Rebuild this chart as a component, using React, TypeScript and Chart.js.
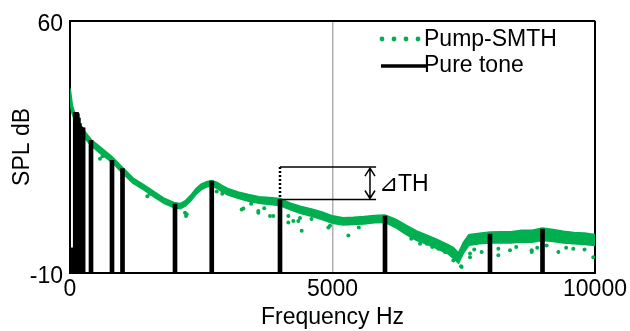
import { useEffect, useRef } from 'react';
import { Chart, registerables } from 'chart.js';
Chart.register(...registerables);

// Pump-SMTH band (upper / lower edge of the dense scatter)
const bandFreq = [0, 40, 100, 200, 300, 400, 500, 600, 800, 1000, 1200, 1400, 1600, 1800, 2000, 2100, 2200, 2300, 2400, 2500, 2600, 2700, 2800, 2900, 3000, 3200, 3400, 3600, 3800, 4000, 4200, 4400, 4600, 4800, 5000, 5200, 5400, 5600, 5800, 6000, 6200, 6400, 6600, 6800, 7000, 7200, 7300, 7400, 7500, 7600, 7800, 8000, 8200, 8400, 8600, 8800, 9000, 9200, 9400, 9600, 9800, 10000];
const bandUpper = [41.2, 36.5, 33.8, 31, 28.8, 27, 25.8, 24.6, 22.2, 19.2, 16.3, 14.5, 12.5, 10.6, 9.4, 9.2, 10, 11.5, 13.3, 14.6, 15.3, 15.6, 15.1, 14.2, 13.4, 12.4, 11.7, 11.1, 10.9, 10.6, 9.3, 8.4, 7.7, 6.9, 5.8, 5.3, 5.4, 5.6, 5.9, 6.0, 4.9, 3.2, 1.6, 0.4, -0.8, -2.2, -3.0, -4.5, -1.5, 0.6, 1.0, 1.3, 1.4, 1.4, 1.8, 1.8, 2.4, 2.0, 1.5, 1.2, 1.0, 0.6];
const bandLower = [37.5, 34.5, 32, 29.5, 27.2, 25.5, 24.2, 23, 20.8, 17.8, 15, 13.2, 11.2, 9.3, 8.1, 7.9, 8.7, 10.1, 11.9, 13.2, 13.9, 14.2, 13.6, 12.6, 11.8, 10.8, 10, 9.4, 9.1, 8.8, 7.6, 6.6, 5.8, 4.9, 3.9, 3.4, 3.5, 3.7, 4.0, 4.1, 2.7, 0.8, -0.9, -2.0, -3.2, -4.6, -5.8, -7.2, -4.2, -2.2, -1.8, -1.6, -1.6, -1.6, -1.3, -1.4, -0.9, -1.2, -1.6, -1.8, -2.0, -2.3];

// isolated low points of Pump-SMTH
const dipFreq = [571, 620, 1473, 1520, 2190, 2210, 2222, 2794, 2900, 3270, 3302, 3450, 3587, 3587, 3700, 3810, 3873, 4159, 4159, 4254, 4349, 4381, 4413, 4600, 4921, 4952, 5302, 5500, 6318, 6349, 6413, 6500, 6667, 6667, 6794, 6900, 7016, 7143, 7302, 7365, 7448, 7460, 7619, 7619, 7700, 7841, 8000, 8159, 8159, 8381, 8500, 8794, 8794, 8900, 9079, 9302, 9450, 9587, 9800, 9968];
const dipLevel = [21.7, 22.4, 11.3, 12.0, 6.7, 5.8, 6.3, 12.6, 12.0, 7.6, 7.9, 9.2, 7.2, 6.7, 8.0, 5.8, 5.8, 4.0, 5.8, 4.4, 4.4, 5.3, 1.7, 5.0, 2.6, 3.1, 0.4, 2.6, 2.6, 2.2, 1.3, -0.5, -0.1, -1.9, -1.9, -2.8, -3.3, -4.2, -6.5, -6.0, -8.1, -8.3, -4.6, -5.6, -3.5, -4.2, -3.0, -5.1, -3.3, -3.7, -2.8, -3.7, -4.2, -3.0, -2.4, -4.2, -3.0, -3.3, -3.5, -5.6];

// Pure tones
const toneFreq = [25, 100, 125, 140, 160, 180, 200, 225, 250, 400, 800, 1000, 2000, 2700, 4000, 6000, 8000, 9000];
const toneLevel = [-3, 34.6, 34.6, 34.2, 33, 31.5, 30.5, 30.3, 30.3, 26.8, 21.3, 19, 9.1, 15.5, 10.4, 5.8, 0.8, 2.2];

// ΔTH annotation
const thFreq = 4000;
const thBase = 10.4;
const thRaised = 19.4;
const thLineEnd = 5830;
const thArrowFreq = 5714;
const thLabel = '⊿TH';

const xTicks = [0, 5000, 10000];
const yTicks = [-10, 60];
const seriesNames = ['Pump-SMTH', 'Pure tone'];

const GREEN = '#00B050';
const FONT = '"Liberation Sans", Arial, sans-serif';
const FS = 23;

const overlay = {
  id: 'overlay',
  afterDraw(chart: any) {
    const { ctx, scales } = chart;
    const x = scales.x, y = scales.y;
    ctx.save();
    const ax = x.getPixelForValue(thArrowFreq);
    const y1 = y.getPixelForValue(thRaised);
    const y2 = y.getPixelForValue(thBase);
    ctx.strokeStyle = '#000';
    ctx.lineWidth = 1.5;
    ctx.beginPath();
    ctx.moveTo(ax, y1 + 1); ctx.lineTo(ax, y2 - 1);
    ctx.moveTo(ax - 5, y1 + 9); ctx.lineTo(ax, y1 + 1); ctx.lineTo(ax + 5, y1 + 9);
    ctx.moveTo(ax - 5, y2 - 9); ctx.lineTo(ax, y2 - 1); ctx.lineTo(ax + 5, y2 - 9);
    ctx.stroke();
    ctx.font = FS + 'px ' + FONT;
    ctx.fillStyle = '#000';
    ctx.textBaseline = 'middle';
    ctx.textAlign = 'left';
    ctx.fillText(thLabel, ax + 9, (y1 + y2) / 2 + 1);

    // legend
    ctx.fillStyle = GREEN;
    [382, 394, 406, 418].forEach((px) => {
      ctx.beginPath(); ctx.arc(px, 39, 2.4, 0, Math.PI * 2); ctx.fill();
    });
    ctx.strokeStyle = '#000';
    ctx.lineWidth = 3.5;
    ctx.beginPath(); ctx.moveTo(381, 66); ctx.lineTo(427, 66); ctx.stroke();
    ctx.fillStyle = '#000';
    ctx.fillText(seriesNames[0], 424, 40);
    ctx.fillText(seriesNames[1], 424, 66);
    ctx.restore();
  },
};

export default function App() {
  const ref = useRef<HTMLCanvasElement>(null);
  useEffect(() => {
    const canvas = ref.current!;
    const frameColor = (c: any) => (c.tick && c.tick.value === 5000 ? '#b0b0b0' : '#000');
    const chart = new Chart(canvas, {
      type: 'line',
      data: {
        datasets: [
          {
            type: 'line',
            label: 'th-dotted',
            data: [{ x: thFreq, y: -10 }, { x: thFreq, y: thRaised }],
            borderColor: '#000',
            borderWidth: 2.5,
            borderDash: [2, 2],
            pointRadius: 0,
          },
          {
            type: 'line',
            label: 'th-top',
            data: [{ x: thFreq, y: thRaised }, { x: thLineEnd, y: thRaised }],
            borderColor: '#000',
            borderWidth: 1.5,
            pointRadius: 0,
          },
          {
            type: 'line',
            label: 'th-bottom',
            data: [{ x: thFreq, y: thBase }, { x: thLineEnd, y: thBase }],
            borderColor: '#000',
            borderWidth: 1.5,
            pointRadius: 0,
          },
          {
            type: 'bar',
            label: seriesNames[1],
            data: toneFreq.map((f, i) => ({ x: f, y: [-10, toneLevel[i]] })) as any,
            backgroundColor: '#000',
            barThickness: 4,
            grouped: false,
          } as any,
          {
            type: 'line',
            label: 'dips',
            data: dipFreq.map((f, i) => ({ x: f, y: dipLevel[i] })),
            showLine: false,
            pointRadius: 2,
            pointBackgroundColor: GREEN,
            pointBorderWidth: 0,
          },
          {
            type: 'line',
            label: seriesNames[0],
            data: bandFreq.map((f, i) => ({ x: f, y: bandUpper[i] })),
            borderColor: GREEN,
            borderWidth: 2,
            backgroundColor: GREEN,
            pointRadius: 0,
            fill: '+1',
            tension: 0,
          },
          {
            type: 'line',
            label: 'band-lower',
            data: bandFreq.map((f, i) => ({ x: f, y: bandLower[i] })),
            borderColor: GREEN,
            borderWidth: 2,
            pointRadius: 0,
            tension: 0,
          },
        ],
      },
      options: {
        responsive: false,
        animation: false,
        layout: { padding: { left: 0, right: 35, top: 16, bottom: 0 } },
        plugins: { legend: { display: false }, tooltip: { enabled: false } },
        scales: {
          x: {
            type: 'linear',
            min: 0,
            max: 10000,
            offset: false,
            afterFit: (s: any) => { s.height = 58; },
            afterBuildTicks: (s: any) => { s.ticks = xTicks.map((v) => ({ value: v })); },
            ticks: {
              color: '#000',
              font: { family: FONT, size: FS },
              padding: 3,
              maxRotation: 0,
              callback: (v: any) => String(v),
            },
            grid: { color: frameColor, lineWidth: (c: any) => (c.tick && c.tick.value === 5000 ? 1.5 : 2), drawTicks: false, offset: false },
            border: { color: '#000', width: 2 },
            title: { display: true, text: 'Frequency Hz', color: '#000', font: { family: FONT, size: FS }, padding: { top: 0, bottom: 0 } },
          },
          y: {
            type: 'linear',
            min: -10,
            max: 60,
            afterFit: (s: any) => { s.width = 70; },
            afterBuildTicks: (s: any) => { s.ticks = yTicks.map((v) => ({ value: v })); },
            ticks: {
              color: '#000',
              font: { family: FONT, size: FS },
              padding: 7,
              labelOffset: 4,
              callback: (v: any) => String(v),
            },
            grid: { color: '#000', lineWidth: 2, drawTicks: false },
            border: { color: '#000', width: 2 },
            title: { display: true, text: 'SPL dB', color: '#000', font: { family: FONT, size: FS }, padding: { top: 9, bottom: 0 } },
          },
        },
      },
      plugins: [overlay],
    });
    return () => chart.destroy();
  }, []);
  return (
    <div style={{ position: 'fixed', left: 0, top: 0, width: 630, height: 331, background: '#fff' }}>
      <canvas ref={ref} width={630} height={331} />
    </div>
  );
}
